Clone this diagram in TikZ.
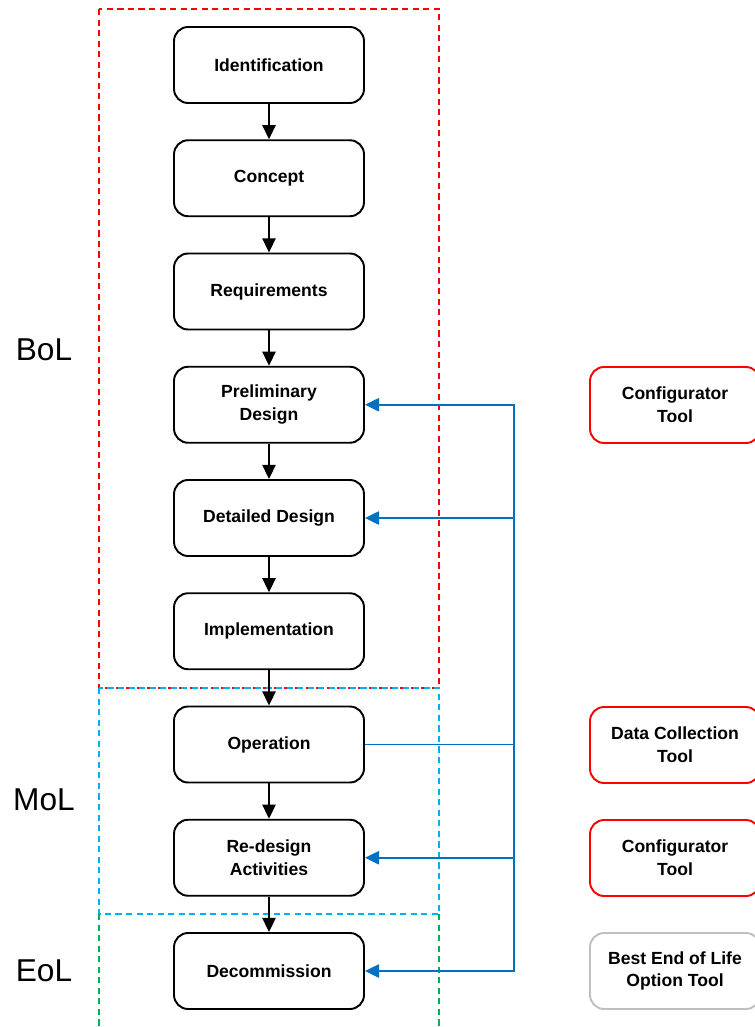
\documentclass[tikz,border=0pt]{standalone}
\usepackage{fontspec}
\setmainfont{Liberation Sans}
\usetikzlibrary{arrows.meta}
\definecolor{phasered}{RGB}{255,0,0}
\definecolor{phasecyan}{RGB}{0,176,240}
\definecolor{phasegreen}{RGB}{0,176,80}
\definecolor{linkblue}{RGB}{0,112,192}
\definecolor{toolgray}{RGB}{191,191,191}
\begin{document}
\begin{tikzpicture}[x=0.02cm, y=-0.02cm]
        \tikzstyle{stepbox}=[draw, line width=1.1pt, rounded corners=8pt, minimum width=3.8cm, minimum height=1.52cm, align=center, font=\fontsize{10}{13}\selectfont\bfseries]
        \tikzstyle{toolbox}=[stepbox, draw=phasered, minimum width=3.4cm]
        \tikzstyle{phase}=[font=\fontsize{18}{22}\selectfont]
        \tikzstyle{frame}=[line width=0.85pt, dash pattern=on 3.5pt off 2.5pt]
        \tikzstyle{flow}=[-{Triangle[length=8pt,width=7.5pt]}, line width=0.9pt]
        \tikzstyle{link}=[linkblue, line width=1.1pt]

        \useasboundingbox (0,0) rectangle (754,1027);

        % phase frames
        \draw[frame, phasered] (99,9) rectangle (439,688);
        \draw[frame, phasecyan] (99,688) rectangle (439,914);
        \draw[frame, phasegreen] (99,914) -- (99,1030);
        \draw[frame, phasegreen] (439,914) -- (439,1030);

        % phase labels
        \node[phase] (bol) at (44,350) {BoL};
        \node[phase] (mol) at (44,800) {MoL};
        \node[phase] (eol) at (44,971) {EoL};

        % lifecycle steps
        \foreach \n/\t [count=\i] in {ident/Identification, concept/Concept, req/Requirements,
            prelim/{Preliminary\\Design}, detail/Detailed Design, impl/Implementation,
            oper/Operation, redesign/{Re-design\\Activities}, decom/Decommission}
        {
          \node[stepbox] (\n) at (269, {65+113.25*(\i-1)}) {\t};
        };

        % arrows between steps
        \foreach \a/\b in {ident/concept, concept/req, req/prelim, prelim/detail,
            detail/impl, impl/oper, oper/redesign, redesign/decom}
        {
          \draw[flow] (\a) -- (\b);
        };

        % tools on the right
        \node[toolbox] (conf1) at (675,405) {Configurator\\Tool};
        \node[toolbox] (data) at (675,745) {Data Collection\\Tool};
        \node[toolbox] (conf2) at (675,858) {Configurator\\Tool};
        \node[toolbox, draw=toolgray] (eoltool) at (675,971) {Best End of Life\\Option Tool};

        % blue links
        \coordinate (bus) at (514,405);
        \draw[link, {Triangle[length=8pt,width=7.5pt]}-{Triangle[length=8pt,width=7.5pt]}]
            (prelim.east) -- (bus |- prelim) -- (bus |- decom) -- (decom.east);
        \draw[link, -{Triangle[length=8pt,width=7.5pt]}] (bus |- detail) -- (detail.east);
        \draw[link, -{Triangle[length=8pt,width=7.5pt]}] (bus |- redesign) -- (redesign.east);
        \draw[link] (oper.east) -- (bus |- oper);
    \end{tikzpicture}
\end{document}
